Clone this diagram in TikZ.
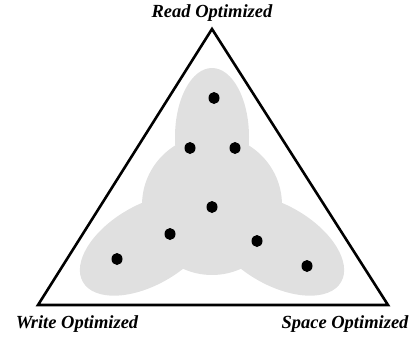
\documentclass[tikz,border=0pt]{standalone}
\usepackage{fontspec}
\setmainfont{Liberation Serif}
\definecolor{blob}{gray}{0.88}
\tikzset{corner/.style={font=\fontsize{18.5}{21}\selectfont\bfseries\itshape, inner sep=0pt}}
\begin{document}
\begin{tikzpicture}[x=1pt,y=-1pt]
	\useasboundingbox (0,0) rectangle (412,337);

	\fill[blob] (212,137) ellipse [x radius=37, y radius=69];
	\fill[blob] (212,205) ellipse [x radius=70, y radius=70];
	\fill[blob, rotate around={30:(147,245)}] (147,245) ellipse [x radius=74, y radius=40];
	\fill[blob, rotate around={-30:(277,245)}] (277,245) ellipse [x radius=74, y radius=40];

	\draw[line width=2.6, line join=miter] (212,29) -- (388,305) -- (38,305) -- cycle;

	\foreach \p in {(214,98),(190,148),(235,148),(212,207),(170,234),(257,241),(117,259),(307,266)}
		\fill \p ellipse [x radius=5.5, y radius=6];

	\node[corner] (read) at (212,13) {Read Optimized};
	\node[corner] (write) at (77,324) {Write Optimized};
	\node[corner] (space) at (345,324) {Space Optimized};
\end{tikzpicture}
\end{document}
